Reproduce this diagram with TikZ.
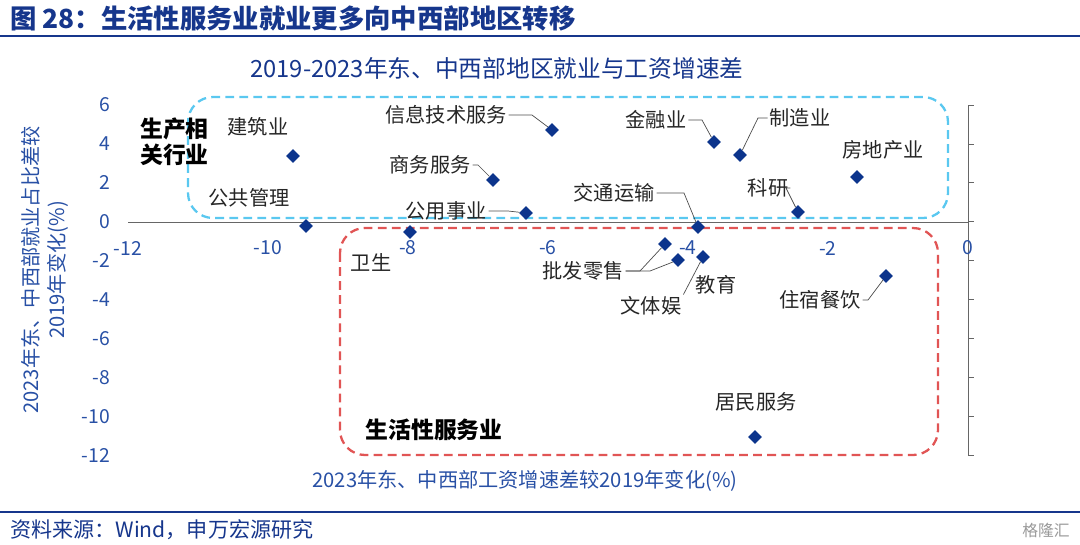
\documentclass[tikz,border=0pt]{standalone}
\usepackage{fontspec}
\setmainfont{Noto Sans CJK SC}
\usetikzlibrary{shapes.geometric, positioning}
\definecolor{titleblue}{RGB}{22,54,140}
\definecolor{axisblue}{RGB}{40,80,165}
\definecolor{markblue}{RGB}{12,52,140}
\definecolor{boxcyan}{RGB}{90,200,240}
\definecolor{boxred}{RGB}{225,85,85}
\begin{document}
\begin{tikzpicture}[
    x=0.02cm, y=-0.02cm,
    dot/.style={diamond, fill=markblue, inner sep=0pt, minimum size=0.28cm},
    lbl/.style={font=\fontsize{11.5}{13}\selectfont, text=black!85, inner sep=1pt},
    tick/.style={font=\fontsize{11}{12}\selectfont, text=axisblue, inner sep=1pt},
    lead/.style={draw=black!70, thin},
    boxline/.style={dashed, line width=1.3pt, rounded corners=0.5cm, dash pattern=on 5pt off 3pt}
]
    \useasboundingbox (0,0) rectangle (1080,545);
    % Header and footer
    \node[anchor=west, font=\bfseries\fontsize{15}{17}\selectfont, text=titleblue] (title) at (4,18) {图 28：生活性服务业就业更多向中西部地区转移};
    \draw[titleblue, line width=0.8pt] (0,36) -- (1080,36);
    \node[font=\fontsize{13.5}{15}\selectfont, text=titleblue] (sub) at (497,68) {2019-2023年东、中西部地区就业与工资增速差};
    \draw[titleblue, line width=0.8pt] (0,512) -- (1080,512);
    \node[anchor=west, font=\fontsize{12}{14}\selectfont, text=titleblue] (src) at (4,530) {资料来源：Wind，申万宏源研究};
    \node[anchor=east, font=\fontsize{9}{10}\selectfont, text=black!40] (wm) at (1076,530) {格隆汇};

    % Axes
    \draw[black!60] (128,222) -- (968,222);
    \draw[black!60] (968,105) -- (968,455);
    \foreach \v [count=\i from 0] in {-12,-10,-8,-6,-4,-2,0}
        \node[tick] (xt\i) at (128+140*\i,248) {\v};
    \foreach \v [count=\i from 0] in {6,4,2,0,-2,-4,-6,-8,-10,-12}
        \node[tick, anchor=east] (yt\i) at (112,105+38.9*\i) {\v};
    \foreach \i in {0,...,9}
        \draw[black!60] (968,105+38.9*\i) -- (974,105+38.9*\i);
    \node[font=\fontsize{11.5}{13}\selectfont, text=axisblue] (xlab) at (525,481) {2023年东、中西部工资增速差较2019年变化(\%)};
    \node[rotate=90, font=\fontsize{11.5}{15}\selectfont, text=axisblue, align=center] (ylab) at (45,270) {2023年东、中西部就业占比差较\\2019年变化(\%)};

    % Group boxes
    \draw[boxline, boxcyan] (188,97) rectangle (948,218);
    \draw[boxline, boxred] (340,228) rectangle (938,455);
    \node[font=\bfseries\fontsize{13}{15}\selectfont, align=left, anchor=west] (gprod) at (134,142) {生产相\\关行业};
    \node[font=\bfseries\fontsize{13}{15}\selectfont] (glife) at (434,430) {生活性服务业};

    % Points
    \node[dot] (jz) at (293,156) {};
    \node[dot] (gg) at (306,226) {};
    \node[dot] (ws) at (410,232) {};
    \node[dot] (sw) at (493,180) {};
    \node[dot] (gy) at (526,213) {};
    \node[dot] (xx) at (552,130) {};
    \node[dot] (jt) at (698,227) {};
    \node[dot] (pf) at (665,244) {};
    \node[dot] (wt) at (678,260) {};
    \node[dot] (jy) at (703,257) {};
    \node[dot] (jr) at (714,142) {};
    \node[dot] (zz) at (740,155) {};
    \node[dot] (ky) at (798,212) {};
    \node[dot] (fd) at (857,177) {};
    \node[dot] (zs) at (886,276) {};
    \node[dot] (jm) at (755,437) {};

    % Labels
    \node[lbl] (ljz) at (258,127) {建筑业};
    \node[lbl] (lgg) at (249,198) {公共管理};
    \node[lbl] (lws) at (371,262) {卫生};
    \node[lbl] (lsw) at (430,165) {商务服务};
    \node[lbl] (lgy) at (446,211) {公用事业};
    \node[lbl] (lxx) at (446,115) {信息技术服务};
    \node[lbl] (ljt) at (614,193) {交通运输};
    \node[lbl] (lpf) at (583,271) {批发零售};
    \node[lbl] (lwt) at (651,306) {文体娱};
    \node[lbl] (ljy) at (716,285) {教育};
    \node[lbl] (ljr) at (656,120) {金融业};
    \node[lbl] (lzz) at (800,118) {制造业};
    \node[lbl] (lky) at (768,188) {科研};
    \node[lbl] (lfd) at (883,150) {房地产业};
    \node[lbl] (lzs) at (820,300) {住宿餐饮};
    \node[lbl] (ljm) at (756,402) {居民服务};

    % Leaders
    \draw[lead] (lsw.east) -- (478,165) -- (sw);
    \draw[lead] (lgy.east) -- (508,211) -- (gy);
    \draw[lead] (lxx.east) -- (532,115) -- (xx);
    \draw[lead] (ljt.east) -- (684,193) -- (jt);
    \draw[lead] (lpf.east) -- (640,271) -- (pf);
    \draw[lead] (lpf.east) -- (650,271) -- (wt);
    \draw[lead] (lwt.north east) -- (jy);
    \draw[lead] (ljr.east) -- (702,120) -- (jr);
    \draw[lead] (lzz.west) -- (758,118) -- (zz);
    \draw[lead] (lky.east) -- (786,188) -- (ky);
    \draw[lead] (lzs.east) -- (868,300) -- (zs);
\end{tikzpicture}
\end{document}
